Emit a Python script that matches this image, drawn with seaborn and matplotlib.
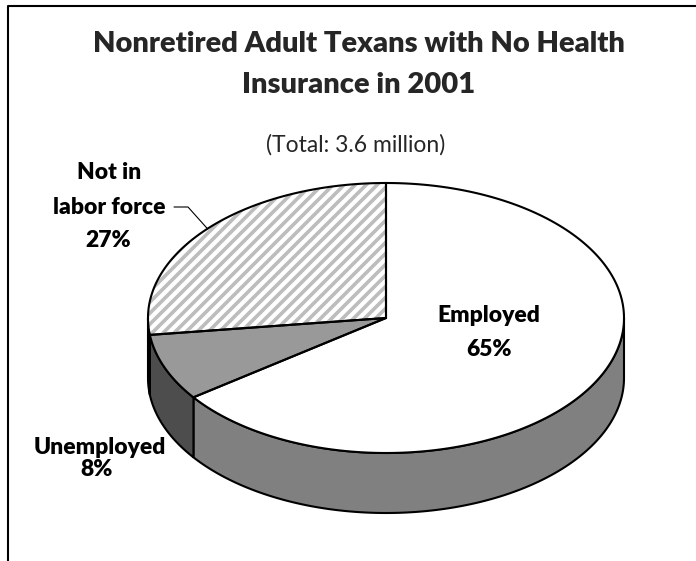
import numpy as np
import matplotlib
matplotlib.use("Agg")
import matplotlib.pyplot as plt
from matplotlib.patches import Polygon
from matplotlib.collections import LineCollection
import seaborn as sns

# Nonretired adult Texans without health insurance, 2001 (share of 3.6 million)
categories = ["Employed", "Unemployed", "Not in\nlabor force"]
shares = [65, 8, 27]
top_colors = ["#ffffff", "#999999", "#ffffff"]
side_colors = ["#808080", "#4d4d4d", "#4d4d4d"]
hatched = [False, False, True]

title_lines = ["Nonretired Adult Texans with No Health", "Insurance in 2001"]
subtitle = "(Total: 3.6 million)"

sns.set_theme(style="white")
plt.rcParams["font.family"] = ["Lato", "DejaVu Sans"]

W, H = 696, 561
fig = plt.figure(figsize=(W / 100, H / 100), dpi=100)
ax = fig.add_axes([0, 0, 1, 1])
ax.set_xlim(0, W)
ax.set_ylim(H, 0)
ax.axis("off")

# pie geometry in pixel space: centre, horizontal/vertical radius, rim depth
cx, cy, a, b, depth = 386, 318, 238, 135, 60


def rim(t, drop=0.0):
    t = np.radians(np.atleast_1d(t))
    return np.column_stack([cx + a * np.cos(t), cy - b * np.sin(t) + drop])


# wedges run clockwise from 12 o'clock
ends = 90 - 3.6 * np.cumsum(shares)
starts = np.r_[90, ends[:-1]]

# visible rim (front half of the disc)
for s, e, col in zip(starts, ends, side_colors):
    lo, hi = max(e, -180), min(s, 0)
    if hi > lo:
        ts = np.linspace(lo, hi, 200)
        poly = np.vstack([rim(ts), rim(ts[::-1], depth)])
        ax.add_patch(Polygon(poly, closed=True, facecolor=col,
                             edgecolor="black", lw=1.5, zorder=1))

# top faces
for s, e, col, hat in zip(starts, ends, top_colors, hatched):
    ts = np.linspace(e, s, 300)
    poly = np.vstack([[cx, cy], rim(ts)])
    face = Polygon(poly, closed=True, facecolor=col, edgecolor="none", zorder=2)
    ax.add_patch(face)
    if hat:
        x0, y0 = poly.min(axis=0)
        x1, y1 = poly.max(axis=0)
        cs = np.arange(x0 + y0, x1 + y1 + 11, 11)
        segs = [[(c - y1 - 5, y1 + 5), (c - y0 + 5, y0 - 5)] for c in cs]
        lc = LineCollection(segs, colors="#bdbdbd", linewidths=2.6, zorder=3)
        lc.set_clip_path(face)
        ax.add_collection(lc)
    ax.add_patch(Polygon(poly, closed=True, fill=False, edgecolor="black",
                         lw=1.5, zorder=4))

# slice labels
bold = dict(fontsize=16.5, fontweight=800, ha="center", va="center", color="black")
emp = f"{categories[0]}\n{shares[0]}%".split("\n")
for txt, y in zip(emp, [315, 349]):
    ax.text(489, y, txt, **bold)

nlf = f"{categories[2]}\n{shares[2]}%".split("\n")
for txt, x, y in zip(nlf, [109, 109, 108], [172, 207, 240]):
    ax.text(x, y, txt, **bold)

une = f"{categories[1]}\n{shares[1]}%".split("\n")
for txt, x, y in zip(une, [100, 97], [447, 469]):
    ax.text(x, y, txt, **bold)

# leader line to the middle of the "not in labor force" slice
mid = rim((starts[2] + ends[2]) / 2)[0]
ax.plot([174, 188, mid[0]], [207, 207, mid[1]], color="black", lw=0.8, zorder=5)

# title and subtitle
for txt, y in zip(title_lines, [44, 85]):
    ax.text(359, y, txt, fontsize=21, fontweight=800, ha="center", va="center")
ax.text(356, 145, subtitle, fontsize=16.5, ha="center", va="center")

# chart-area frame (left and top edges)
ax.plot([8, 8, W + 5], [H + 5, 6, 6], color="black", lw=1.5, clip_on=False)

fig.savefig("out.png", dpi=100)
